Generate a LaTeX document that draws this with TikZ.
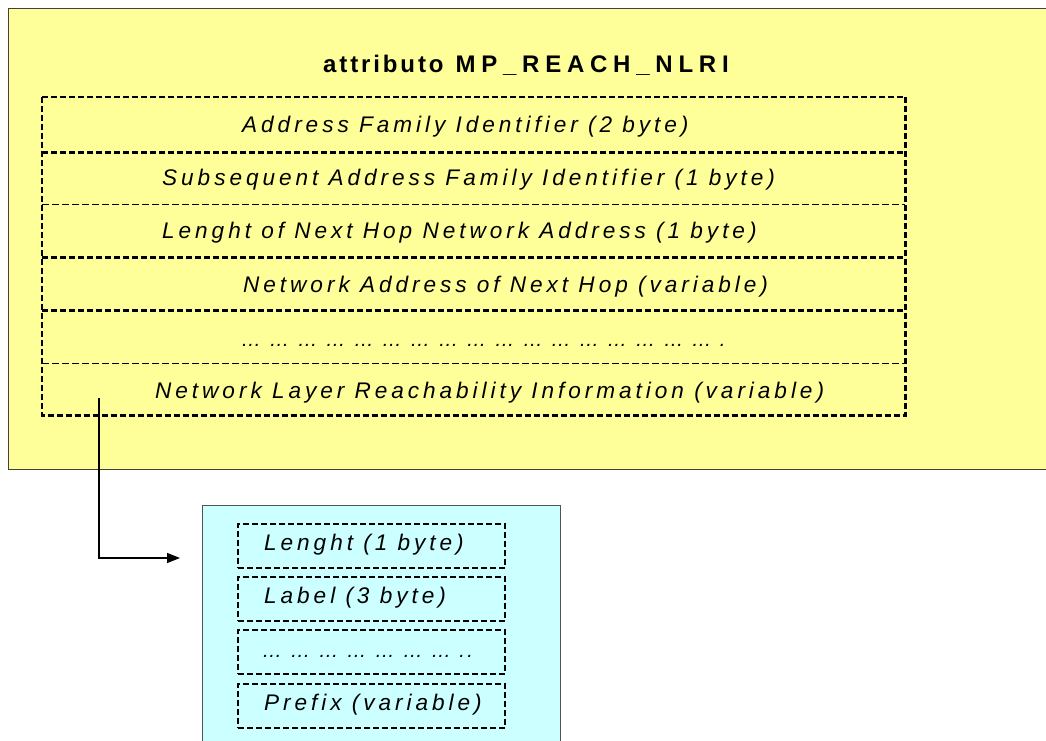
\documentclass[tikz,border=0pt]{standalone}
\usepackage{fontspec}
\setmainfont{Liberation Sans}
\newfontface\rowfont{Liberation Sans Italic}[LetterSpace=17.5]
\newfontface\dotfont{Liberation Sans Italic}[LetterSpace=13]
\newfontface\titlefontA{Liberation Sans Bold}[LetterSpace=12]
\newfontface\titlefontB{Liberation Sans Bold}[LetterSpace=24]
\usetikzlibrary{arrows.meta}
\definecolor{ylw}{HTML}{FFFF99}
\definecolor{cyn}{HTML}{CCFFFF}
\definecolor{frame}{HTML}{404040}
\tikzset{
  rowbox/.style={draw=none, minimum width=863pt, inner sep=0pt, anchor=north west},
  thickdash/.style={line width=2.2pt, dash pattern=on 6pt off 3pt},
  thindash/.style={line width=1.2pt, dash pattern=on 7pt off 3pt},
  rowtext/.style={anchor=base west, inner sep=0pt, font=\fontsize{22.6}{26}\rowfont},
  dottext/.style={anchor=base west, inner sep=0pt, font=\fontsize{20}{24}\dotfont},
  fieldbox/.style={draw, thickdash, minimum width=267pt, minimum height=44pt, inner sep=0pt, anchor=north west},
  conn/.style={line width=1.3pt, -{Triangle[length=13pt,width=10pt]}}
}
\begin{document}
\begin{tikzpicture}[x=1pt,y=-1pt]
\useasboundingbox (0,0) rectangle (1046,740);
\fill[white] (0,0) rectangle (1046,740);
% yellow attribute frame
\node[draw=frame, line width=1.3pt, fill=ylw, minimum width=1060pt, minimum height=461pt, anchor=north west, inner sep=0pt] (attr) at (8,8) {};
\node[anchor=base west, inner sep=0pt] (title) at (323,72)
  {\fontsize{24}{28}\titlefontA attributo\hspace*{12pt}\titlefontB MP\_REACH\_NLRI};
% table rows
\node[rowbox, minimum height=55pt] (r1) at (42,97) {};
\node[rowbox, minimum height=52pt] (r2) at (42,152) {};
\node[rowbox, minimum height=53pt] (r3) at (42,204) {};
\node[rowbox, minimum height=53pt] (r4) at (42,257) {};
\node[rowbox, minimum height=53pt] (r5) at (42,310) {};
\node[rowbox, minimum height=52pt] (r6) at (42,363) {};
\draw[thickdash] (r1.north west) rectangle (r6.south east);
\draw[thickdash] (r1.south west) -- (r1.south east);
\draw[thindash] (r2.south west) -- (r2.south east);
\draw[thickdash] (r3.south west) -- (r3.south east);
\draw[thickdash] (r4.south west) -- (r4.south east);
\draw[thindash] (r5.south west) -- (r5.south east);
\node[rowtext] (t1) at (242,132) {Address Family Identifier (2 byte)};
\node[rowtext] (t2) at (162,185) {Subsequent Address Family Identifier (1 byte)};
\node[rowtext] (t3) at (162,238) {Lenght of Next Hop Network Address (1 byte)};
\node[rowtext] (t4) at (243,292) {Network Address of Next Hop (variable)};
\node[dottext] (t5) at (241,346) {… … … … … … … … … … … … … … … … … .};
\node[rowtext] (t6) at (155,398) {Network Layer Reachability Information (variable)};
% NLRI detail box
\node[draw=frame!90, line width=1.3pt, fill=cyn, minimum width=358pt, minimum height=250pt, anchor=north west, inner sep=0pt] (nlri) at (202,505) {};
\node[fieldbox] (b1) at (237,523) {};
\node[fieldbox] (b2) at (237,576) {};
\node[fieldbox] (b3) at (237,629) {};
\node[fieldbox] (b4) at (237,683) {};
\node[rowtext] (c1) at (264,550) {Lenght (1 byte)};
\node[rowtext] (c2) at (264,603) {Label (3 byte)};
\node[dottext] (c3) at (262,657) {… … … … … … … ..};
\node[rowtext] (c4) at (264,710) {Prefix (variable)};
% connector
\coordinate (src) at (99,398);
\coordinate (dst) at (180,558);
\draw[conn] (src) |- (dst);
\end{tikzpicture}
\end{document}
